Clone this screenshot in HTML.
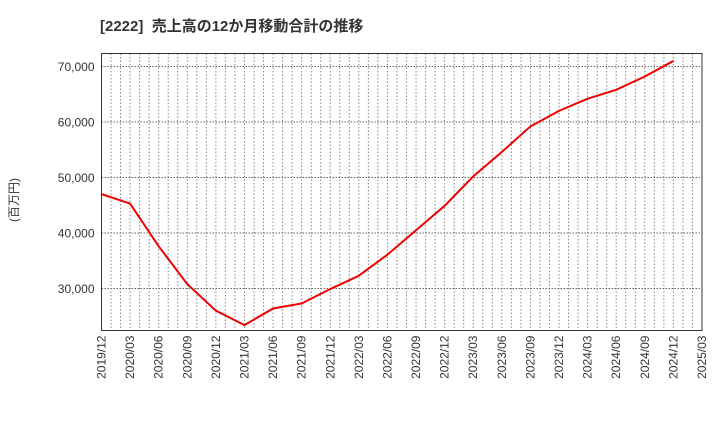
<!DOCTYPE html>
<html><head><meta charset="utf-8"><style>
body{margin:0;background:#fff;width:720px;height:440px;overflow:hidden;font-family:"Liberation Sans","Noto Sans CJK JP",sans-serif}
</style></head><body>
<svg id="chart" width="720" height="440" style="position:absolute;left:0;top:0">
<text x="100" y="31" font-size="15" font-weight="bold" fill="#333" style="white-space:pre" font-family="Liberation Sans, Noto Sans CJK JP, sans-serif">[2222]  売上高の12か月移動合計の推移</text>
<text transform="translate(18,200) rotate(-90)" font-size="12" fill="#333" text-anchor="middle" font-family="Liberation Sans, Noto Sans CJK JP, sans-serif">(百万円)</text>
<g id="grid"></g><g id="axes"></g><g id="series"></g>
</svg>
<script>
const categories=["2019/12","2020/03","2020/06","2020/09","2020/12","2021/03","2021/06","2021/09","2021/12","2022/03","2022/06","2022/09","2022/12","2023/03","2023/06","2023/09","2023/12","2024/03","2024/06","2024/09","2024/12","2025/03"];
const salesValues=[47000,45300,37600,30800,26000,23400,26400,27300,29900,32300,36100,40500,44900,50200,54600,59200,62000,64200,65800,68200,71000];
const yTicks=[30000,40000,50000,60000,70000];
const yTickLabels=["30,000","40,000","50,000","60,000","70,000"];
const NS="http://www.w3.org/2000/svg";
const L=101.5,R=702,T=53.5,B=330.5,yMin=22430,yMax=72340;
const nQ=categories.length-1;
function xs(i){return L+(R-L)*i/nQ;}
function ys(v){return B-(v-yMin)/(yMax-yMin)*(B-T);}
function mk(tag,attrs,parent){const e=document.createElementNS(NS,tag);for(const k in attrs)e.setAttribute(k,attrs[k]);parent.appendChild(e);return e;}
const grid=document.getElementById('grid'),axes=document.getElementById('axes'),series=document.getElementById('series');
for(let m=1;m<nQ*3;m++){const x=L+(R-L)*m/(nQ*3);
const g=mk('line',{x1:x,x2:x,y1:T,y2:B,stroke:'#888','stroke-width':1,'stroke-dasharray':'1.5,2'},grid);

}
yTicks.forEach((v,i)=>{const y=ys(v);
const g=mk('line',{x1:L,x2:R,y1:y,y2:y,stroke:'#666','stroke-width':1,'stroke-dasharray':'1.5,1.5'},grid);


const t=mk('text',{x:L-7,y:y+4.5,'font-size':12,fill:'#333','text-anchor':'end'},axes);t.textContent=yTickLabels[i];

});
categories.forEach((c,i)=>{const x=xs(i);
const t=mk('text',{transform:`translate(${x+4},${B+5}) rotate(-90)`,'font-size':12,fill:'#333','text-anchor':'end'},axes);t.textContent=c;

});
const fr=mk('rect',{x:L,y:T,width:R-L,height:B-T,fill:'none',stroke:'#333','stroke-width':1},axes);


const p=mk('polyline',{points:salesValues.map((v,i)=>xs(i)+','+ys(v)).join(' '),fill:'none',stroke:'#ee0000','stroke-width':2},series);


</script>
</body></html>
